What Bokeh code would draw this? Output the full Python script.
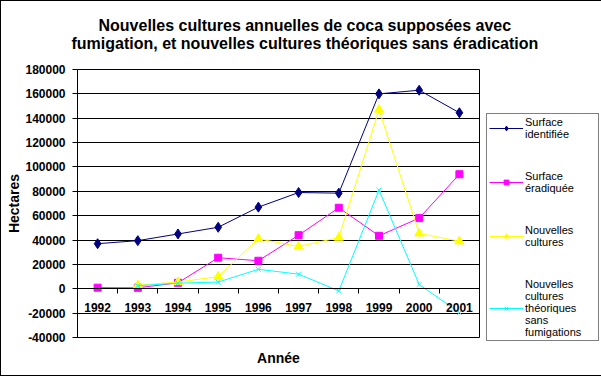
from bokeh.plotting import figure
from bokeh.models import (Range1d, FixedTicker, LinearAxis, NumeralTickFormatter,
                          Title, Legend, LegendItem, Grid)
from bokeh.embed import file_html
from bokeh.resources import INLINE
import numpy as np

years = [1992, 1993, 1994, 1995, 1996, 1997, 1998, 1999, 2000, 2001]
surface_identifiee = [37000, 39500, 45000, 50500, 67000, 79000, 78500, 160000, 163000, 144500]
surface_eradiquee = [900, 800, 4900, 25500, 23000, 44000, 66500, 43500, 58000, 94000]
nouvelles_cultures = [None, 3000, 5500, 10000, 41000, 34700, 42000, 147000, 45500, 39000]
nouvelles_theoriques = [None, 2500, 4600, 5500, 16000, 12000, -1800, 81000, 3500, -19500]
y_ticks = list(range(-40000, 180001, 20000))

title_line1 = "Nouvelles cultures annuelles de coca supposées avec"
title_line2 = "fumigation, et nouvelles cultures théoriques sans éradication"
labels = ["Surface\nidentifiée", "Surface\néradiquée", "Nouvelles\ncultures",
          "Nouvelles\ncultures\nthéoriques\nsans\nfumigations"]

FONT = "Liberation Sans"

def arr(v):
    return np.array([np.nan if x is None else x for x in v], dtype=float)

p = figure(frame_width=402, frame_height=268, output_backend="svg", toolbar_location=None,
           title=None, x_range=Range1d(min(years) - 0.5, max(years) + 0.5),
           y_range=Range1d(min(y_ticks), max(y_ticks)),
           x_axis_type=None, y_axis_type=None,
           min_border_left=76, min_border_right=121, min_border_top=68, min_border_bottom=38)
p.styles = {"border": "1px solid black"}
p.background_fill_color = "white"
p.border_fill_color = "white"
p.outline_line_color = "black"
p.outline_line_width = 1

# Y axis
yax = LinearAxis(ticker=FixedTicker(ticks=y_ticks), formatter=NumeralTickFormatter(format="0"))
yax.major_tick_out = 5
yax.major_tick_in = 0
yax.minor_tick_out = 0
yax.minor_tick_in = 0
yax.major_label_standoff = 7
yax.major_label_text_font = FONT
yax.major_label_text_font_style = "bold"
yax.major_label_text_font_size = "12px"
yax.major_label_text_color = "black"
yax.axis_line_color = "black"
yax.major_tick_line_color = "black"
yax.axis_label = "Hectares"
yax.axis_label_text_font = FONT
yax.axis_label_text_font_style = "bold"
yax.axis_label_text_font_size = "14px"
yax.axis_label_text_color = "black"
yax.axis_label_standoff = 0
p.add_layout(yax, "left")

# X axis at zero
boundaries = [y + 0.5 for y in [years[0] - 1] + years]
xax = LinearAxis(ticker=FixedTicker(ticks=years, minor_ticks=boundaries), fixed_location=0)
xax.major_tick_out = 0
xax.major_tick_in = 0
xax.minor_tick_out = 5
xax.minor_tick_in = 0
xax.major_label_standoff = 9
xax.major_label_text_font = FONT
xax.major_label_text_font_style = "bold"
xax.major_label_text_font_size = "12px"
xax.major_label_text_color = "black"
xax.axis_line_color = "black"
xax.minor_tick_line_color = "black"
p.add_layout(xax, "below")

g = Grid(dimension=1, ticker=FixedTicker(ticks=y_ticks), grid_line_color="black", grid_line_width=1)
p.add_layout(g, "center")

# Title lines
t2 = Title(text=title_line2, align="left", offset=-6, text_font=FONT, text_font_style="bold",
           text_font_size="16px", standoff=35, text_color="black")
t1 = Title(text=title_line1, align="left", offset=21, text_font=FONT, text_font_style="bold",
           text_font_size="16px", standoff=-36, text_color="black")
p.add_layout(t2, "above")
p.add_layout(t1, "above")

xt = Title(text="Année", align="center", text_font=FONT, text_font_style="bold",
           text_font_size="14px", standoff=20, vertical_align="bottom", text_color="black")
p.add_layout(xt, "below")

x = np.array(years, dtype=float)
series = [
    (surface_identifiee, "#000080", "diamond", 10),
    (surface_eradiquee, "#FF00FF", "square", 7),
    (nouvelles_cultures, "#FFFF00", "triangle", 9),
    (nouvelles_theoriques, "#00FFFF", "x", 7),
]
items = []
for (vals, col, mk, sz), lab in zip(series, labels):
    yv = arr(vals)
    m = ~np.isnan(yv)
    r1 = p.line(x[m], yv[m], line_color=col, line_width=1)
    r2 = p.scatter(x[m], yv[m], marker=mk, size=sz, fill_color=col, line_color=col)
    items.append(LegendItem(label=lab, renderers=[r1, r2]))

legend = Legend(items=items, location=(7, -4), orientation="vertical")
legend.label_text_font = FONT
legend.label_text_font_size = "11px"
legend.label_text_color = "black"
legend.label_text_line_height = 1.0
legend.glyph_width = 34
legend.glyph_height = 12
legend.label_standoff = 2
legend.label_width = 71
legend.spacing = 30
legend.padding = 2
legend.margin = 0
legend.border_line_color = "black"
legend.border_line_width = 1
legend.background_fill_color = "white"
legend.background_fill_alpha = 1
p.add_layout(legend, "right")

open("out.html", "w").write(file_html(p, INLINE))
